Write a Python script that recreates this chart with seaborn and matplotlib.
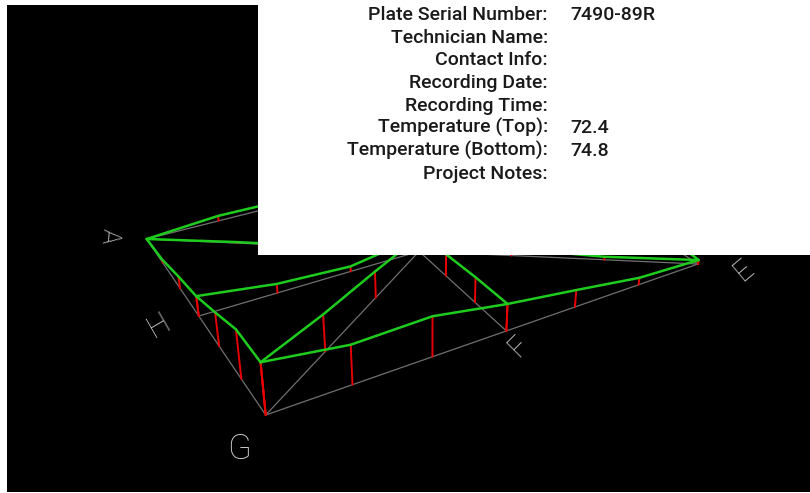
#!/usr/bin/env python3
"""
plot.py - surface plate (union jack) flatness view with info panel
"""
import numpy as np
import pandas as pd
import matplotlib
matplotlib.use("Agg")
import matplotlib.pyplot as plt
import seaborn as sns

# deviation at each station, 6 intervals per line (start -> end)
edge_ga = [53, 50, 34, 20, 12, 3, 0]        # G -> A
edge_ge = [53, 40, 40.5, 27, 17, 7, 4]      # G -> E
edge_ac = [0, 5, 4, 8, 10, 9, 8]            # A -> C
edge_ec = [4, 8, 10, 12, 10, 9, 8]          # E -> C
diag_gc = [53, 37, 26, 15, 12, 10, 8]       # G -> C
diag_ae = [0, 1, 0.5, 15, 7, 3, 4]          # A -> E
mid_hd = [20, 9, 5, 15, 13, 12, 12]         # H -> D
mid_fb = [27, 25, 21.5, 15, 12, 10, 8]      # F -> B

corner_names = ["A", "E", "F", "G", "H"]

info_labels = ["Plate Serial Number:", "Technician Name:", "Contact Info:",
               "Recording Date:", "Recording Time:", "Temperature (Top):",
               "Temperature (Bottom):", "Project Notes:"]
info_values = ["7490-89R", "", "", "", "", "72.4", "74.8", ""]

# plate coords (s along G->E, t along G->A)
nodes = {"G": (0, 0), "E": (1, 0), "A": (0, 1), "C": (1, 1),
         "F": (0.5, 0), "B": (0.5, 1), "H": (0, 0.5), "D": (1, 0.5)}
lines = [("G", "A", edge_ga), ("G", "E", edge_ge), ("A", "C", edge_ac),
         ("E", "C", edge_ec), ("G", "C", diag_gc), ("A", "E", diag_ae),
         ("H", "D", mid_hd), ("F", "B", mid_fb)]

# camera: screen pixels of three corners + perspective depth
cam_px = {"G": np.array([265.7, 415.0]), "E": np.array([698.0, 264.0]),
          "A": np.array([146.7, 239.0])}
cam_w = {"G": 1.0, "E": 1.256, "A": 1.286}
up_vanish = np.array([430.0, 2100.0])


def project(s, t):
    w = 1 + (cam_w["E"] - 1) * s + (cam_w["A"] - 1) * t
    n = (cam_px["G"] + s * (cam_w["E"] * cam_px["E"] - cam_px["G"])
         + t * (cam_w["A"] * cam_px["A"] - cam_px["G"]))
    return n / w


rows = []
for i, (p0, p1, hts) in enumerate(lines):
    s0, t0 = nodes[p0]
    s1, t1 = nodes[p1]
    for k, h in enumerate(hts):
        f = k / (len(hts) - 1)
        base = project(s0 + (s1 - s0) * f, t0 + (t1 - t0) * f)
        up = base - up_vanish
        top = base + h * up / np.linalg.norm(up)
        rows.append(dict(line=i, k=k, h=h, bx=base[0], by=base[1],
                         tx=top[0], ty=top[1]))
df = pd.DataFrame(rows)

red = []
for j, r in df[df.h != 0].iterrows():
    red.append(dict(seg=j, x=r.bx, y=r.by))
    red.append(dict(seg=j, x=r.tx, y=r.ty))
red = pd.DataFrame(red)

sns.set_style("dark")
plt.rcParams["font.family"] = ["Roboto", "DejaVu Sans"]

W, H = 810, 493
fig = plt.figure(figsize=(8.1, 4.93), dpi=100, facecolor="white")

ax = fig.add_axes([7 / W, 1 - 492 / H, 803 / W, 487 / H])
ax.set_facecolor("black")
sns.lineplot(data=df, x="bx", y="by", units="line", estimator=None, sort=False,
             color="#707070", lw=0.9, ax=ax, zorder=1)
sns.lineplot(data=red, x="x", y="y", units="seg", estimator=None, sort=False,
             color="#e80000", lw=1.4, ax=ax, zorder=2)
sns.lineplot(data=df, x="tx", y="ty", units="line", estimator=None, sort=False,
             color="#1ecc1e", lw=1.8, ax=ax, zorder=3)
ax.set_xlim(7, 810)
ax.set_ylim(492, 5)
ax.set_xlabel("")
ax.set_ylabel("")
ax.set_xticks([])
ax.set_yticks([])
for sp in ax.spines.values():
    sp.set_visible(False)

# corner letters, lying in the plate plane
label_style = {"A": ((-38, -3), -95, 18), "H": ((-40, 9), 30, 22),
               "G": ((-27, 34), 0, 25), "F": ((12, 15), 45, 21),
               "E": ((45, 7), 40, 21)}
for name in corner_names:
    (dx, dy), rot, size = label_style[name]
    p = project(*nodes[name])
    ax.text(p[0] + dx, p[1] + dy, name, color="#d2d2d2", fontsize=size,
            fontweight="light", rotation=rot, rotation_mode="anchor",
            ha="center", va="center", zorder=4)

# info panel
box = fig.add_axes([258 / W, 1 - 255.5 / H, 552 / W, 255.5 / H], zorder=5)
box.set_facecolor("white")
box.set_xlim(258, 810)
box.set_ylim(255.5, 0)
box.set_xticks([])
box.set_yticks([])
for sp in box.spines.values():
    sp.set_visible(False)
for i, (lab, val) in enumerate(zip(info_labels, info_values)):
    y = 20 + 22.65 * i
    box.text(548, y, lab, ha="right", va="baseline", fontsize=14,
             fontweight="medium", color="#1a1a1a")
    box.text(570, y, val, ha="left", va="baseline", fontsize=14,
             fontweight="medium", color="#1a1a1a")

fig.savefig("out.png", dpi=100, facecolor="white")
